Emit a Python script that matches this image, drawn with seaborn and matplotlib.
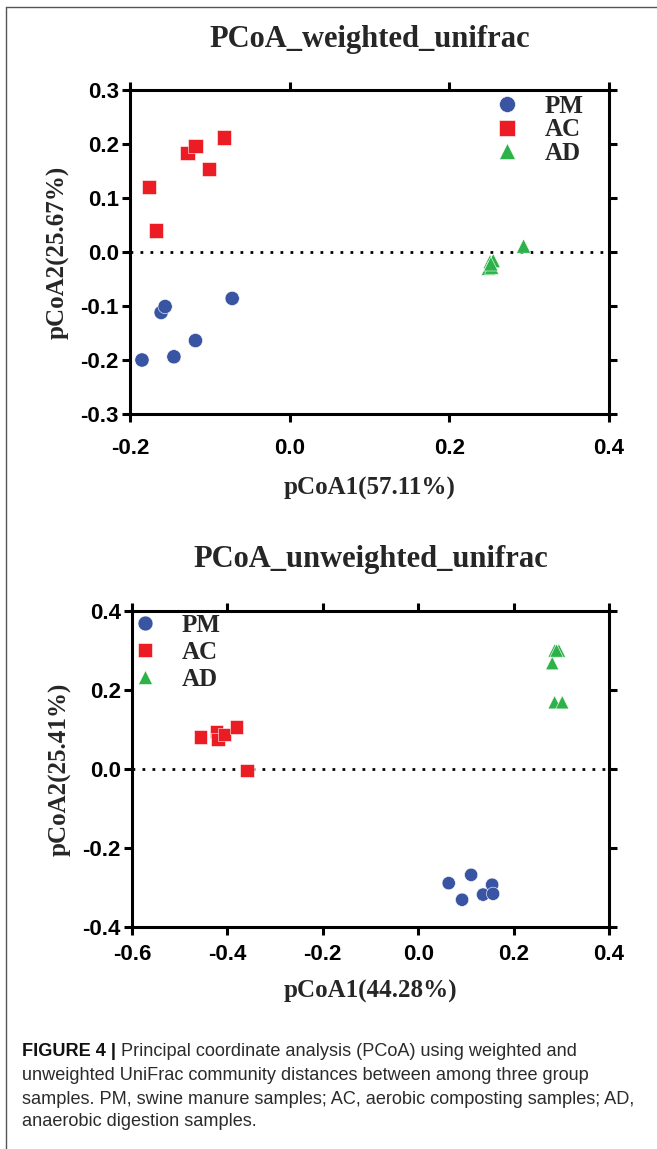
import matplotlib
matplotlib.use("Agg")
import matplotlib.pyplot as plt
import seaborn as sns
import pandas as pd
from matplotlib.lines import Line2D
from matplotlib.ticker import FormatStrFormatter

# ---------------- data ----------------
groups = ["PM", "AC", "AD"]
colors = ["#3A54A4", "#EC1C24", "#2DB24A"]
marker_list = ["o", "s", "^"]

# weighted unifrac
w_pm_x = [-0.185, -0.145, -0.161, -0.156, -0.118, -0.072]
w_pm_y = [-0.200, -0.194, -0.112, -0.101, -0.164, -0.086]
w_ac_x = [-0.176, -0.167, -0.128, -0.118, -0.101, -0.082]
w_ac_y = [0.120, 0.040, 0.183, 0.197, 0.153, 0.212]
w_ad_x = [0.251, 0.255, 0.249, 0.253, 0.252, 0.293]
w_ad_y = [-0.018, -0.016, -0.030, -0.028, -0.022, 0.011]

# unweighted unifrac
u_pm_x = [0.064, 0.092, 0.111, 0.136, 0.155, 0.157]
u_pm_y = [-0.289, -0.331, -0.268, -0.318, -0.293, -0.316]
u_ac_x = [-0.457, -0.423, -0.420, -0.406, -0.381, -0.359]
u_ac_y = [0.081, 0.095, 0.074, 0.087, 0.106, -0.004]
u_ad_x = [0.286, 0.295, 0.281, 0.286, 0.302, 0.290]
u_ad_y = [0.300, 0.300, 0.268, 0.169, 0.169, 0.300]

w_xticks = [-0.2, 0.0, 0.2, 0.4]
w_yticks = [-0.3, -0.2, -0.1, 0.0, 0.1, 0.2, 0.3]
u_xticks = [-0.6, -0.4, -0.2, 0.0, 0.2, 0.4]
u_yticks = [-0.4, -0.2, 0.0, 0.2, 0.4]

w_title = "PCoA_weighted_unifrac"
u_title = "PCoA_unweighted_unifrac"
w_xlabel, w_ylabel = "pCoA1(57.11%)", "pCoA2(25.67%)"
u_xlabel, u_ylabel = "pCoA1(44.28%)", "pCoA2(25.41%)"

caption_bold = "FIGURE 4 |"
caption_lines = [
    " Principal coordinate analysis (PCoA) using weighted and",
    "unweighted UniFrac community distances between among three group",
    "samples. PM, swine manure samples; AC, aerobic composting samples; AD,",
    "anaerobic digestion samples.",
]


def make_df(pm_x, pm_y, ac_x, ac_y, ad_x, ad_y):
    rows = []
    for g, xs, ys in zip(groups, [pm_x, ac_x, ad_x], [pm_y, ac_y, ad_y]):
        for a, b in zip(xs, ys):
            rows.append({"x": a, "y": b, "group": g})
    return pd.DataFrame(rows)


df_w = make_df(w_pm_x, w_pm_y, w_ac_x, w_ac_y, w_ad_x, w_ad_y)
df_u = make_df(u_pm_x, u_pm_y, u_ac_x, u_ac_y, u_ad_x, u_ad_y)

# ---------------- style ----------------
sns.set_style("ticks")
plt.rcParams["font.family"] = ["Liberation Sans", "DejaVu Sans"]
plt.rcParams["axes.edgecolor"] = "black"
plt.rcParams["xtick.color"] = "black"
plt.rcParams["ytick.color"] = "black"

SERIF = "Liberation Serif"
W, H = 657, 1149
fig = plt.figure(figsize=(W / 100, H / 100), dpi=100)

palette = dict(zip(groups, colors))
markers = dict(zip(groups, marker_list))


def px_ax(left, top, right, bottom):
    return fig.add_axes([left / W, 1 - bottom / H, (right - left) / W, (bottom - top) / H])


def style_axes(ax, xticks, yticks, xlabel, ylabel, leg_anchor, leg_spacing,
               xpad, xlabelpad):
    ax.axhline(0, color="black", lw=2.0, ls=(0, (1, 2.6)), zorder=0)
    ax.set_xlim(xticks[0], xticks[-1])
    ax.set_ylim(yticks[0], yticks[-1])
    ax.set_xticks(xticks)
    ax.set_yticks(yticks)
    ax.xaxis.set_major_formatter(FormatStrFormatter("%.1f"))
    ax.yaxis.set_major_formatter(FormatStrFormatter("%.1f"))
    for s in ax.spines.values():
        s.set_visible(True)
        s.set_linewidth(2.2)
        s.set_color("black")
    ax.tick_params(which="both", direction="out", length=6, width=2.2,
                   top=True, right=True, labeltop=False, labelright=False,
                   labelsize=16)
    ax.tick_params(axis="x", pad=xpad)
    ax.tick_params(axis="y", pad=2)
    for lab in ax.get_xticklabels() + ax.get_yticklabels():
        lab.set_fontweight("bold")
        lab.set_family("Liberation Sans")
    ax.set_xlabel(xlabel, fontsize=18, fontweight="bold", family=SERIF, labelpad=xlabelpad)
    ax.set_ylabel(ylabel, fontsize=18, fontweight="bold", family=SERIF, labelpad=8)
    sns.move_legend(ax, "upper left", bbox_to_anchor=leg_anchor, frameon=False,
                    title="", prop=dict(family=SERIF, weight="bold", size=18),
                    handlelength=1.0, handletextpad=1.0, markerscale=1.12,
                    labelspacing=leg_spacing, borderpad=0, borderaxespad=0)


# top panel
ax1 = px_ax(130, 90, 609, 414)
sns.scatterplot(data=df_w, x="x", y="y", hue="group", style="group",
                hue_order=groups, style_order=groups, palette=palette,
                markers=markers, s=105, edgecolor="white", linewidth=0.4,
                ax=ax1, zorder=3)
style_axes(ax1, w_xticks, w_yticks, w_xlabel, w_ylabel, (0.761, 0.985), 0.02,
           xpad=11, xlabelpad=13)
fig.text((130 + 609) / 2 / W, 1 - 39 / H, w_title, ha="center", va="center",
         fontsize=22, fontweight="bold", family=SERIF)

# bottom panel
ax2 = px_ax(132, 611, 609, 927)
sns.scatterplot(data=df_u, x="x", y="y", hue="group", style="group",
                hue_order=groups, style_order=groups, palette=palette,
                markers=markers, s=92, edgecolor="white", linewidth=0.4,
                ax=ax2, zorder=3)
style_axes(ax2, u_xticks, u_yticks, u_xlabel, u_ylabel, (0.0, 0.992), 0.17,
           xpad=6, xlabelpad=11)
fig.text((132 + 609) / 2 / W, 1 - 559 / H, u_title, ha="center", va="center",
         fontsize=22, fontweight="bold", family=SERIF)

# frame lines of the figure panel
fig.add_artist(Line2D([6 / W, 6 / W], [0, 1 - 7 / H], transform=fig.transFigure,
                      color="#555555", lw=1.0))
fig.add_artist(Line2D([6 / W, 1], [1 - 7 / H, 1 - 7 / H], transform=fig.transFigure,
                      color="#555555", lw=1.0))

# caption
fig.canvas.draw()
renderer = fig.canvas.get_renderer()
cap_x = 22 / W
line_y = [1052, 1075, 1099, 1121]
probe = fig.text(cap_x, 0.5, caption_lines[2], fontsize=12, family="Liberation Sans")
wpx = probe.get_window_extent(renderer).width
probe.remove()
cap_size = 12 * 614 / wpx
cap_color = "#2b2b2b"
tb = fig.text(cap_x, 1 - line_y[0] / H, caption_bold, fontsize=cap_size,
              fontweight="bold", family="Liberation Sans", va="center", color="#111111")
bw = tb.get_window_extent(renderer).width
fig.text(cap_x + bw / W, 1 - line_y[0] / H, caption_lines[0], fontsize=cap_size,
         family="Liberation Sans", va="center", color=cap_color)
for txt, yy in zip(caption_lines[1:], line_y[1:]):
    fig.text(cap_x, 1 - yy / H, txt, fontsize=cap_size, family="Liberation Sans",
             va="center", color=cap_color)

fig.savefig("out.png", dpi=100)
